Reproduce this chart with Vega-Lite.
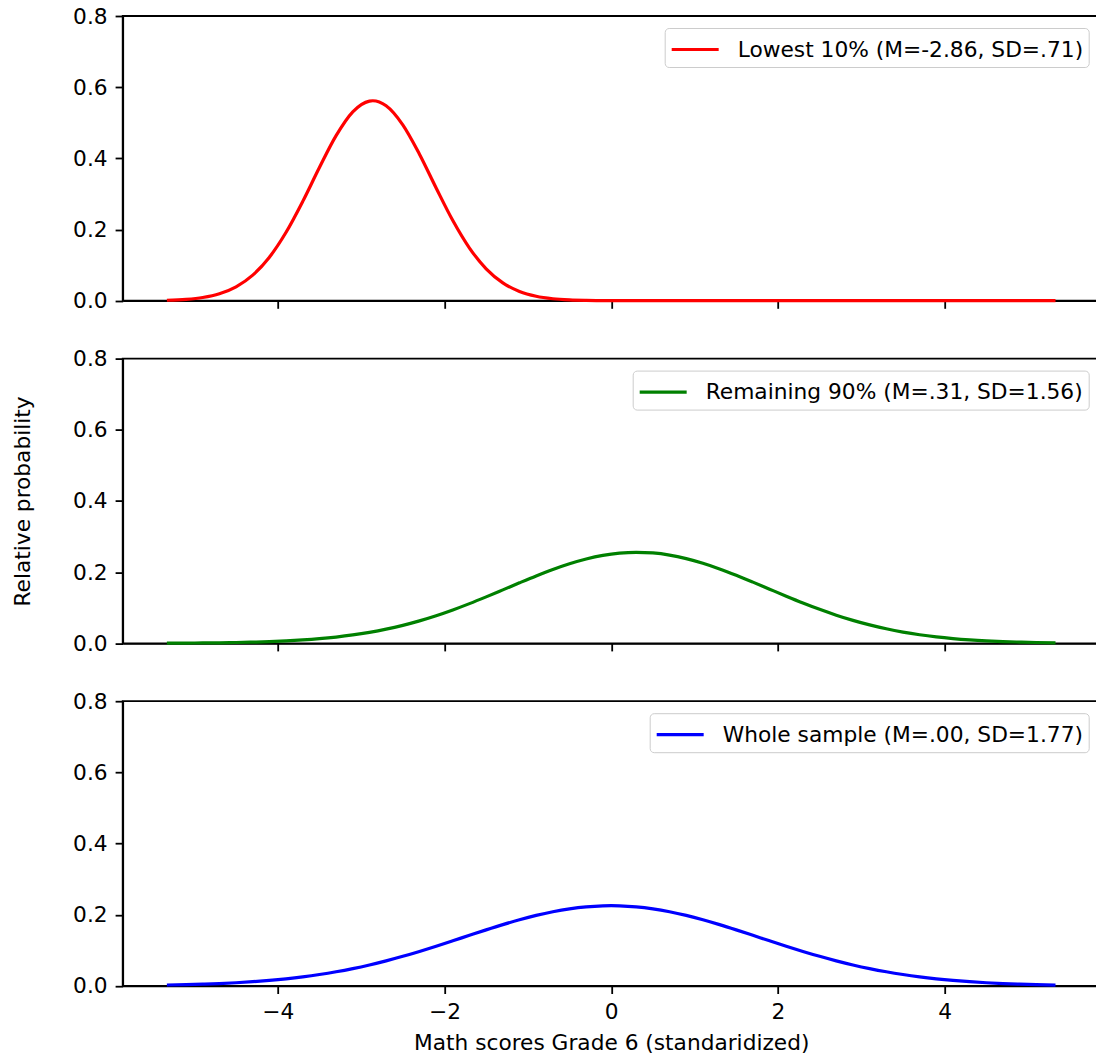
{
  "$schema": "https://vega.github.io/schema/vega-lite/v6.json",
  "autosize": {"type": "none"},
  "padding": {"left": 122.7, "top": 16, "right": 973, "bottom": 1041},
  "background": "white",
  "datasets": {
    "lowest": [
      {"x": -5.33, "y": 0.00132, "g": "Lowest 10% (M=-2.86, SD=.71)"},
      {"x": -5.1, "y": 0.00387, "g": "Lowest 10% (M=-2.86, SD=.71)"},
      {"x": -4.9, "y": 0.00906, "g": "Lowest 10% (M=-2.86, SD=.71)"},
      {"x": -4.7, "y": 0.01956, "g": "Lowest 10% (M=-2.86, SD=.71)"},
      {"x": -4.5, "y": 0.03899, "g": "Lowest 10% (M=-2.86, SD=.71)"},
      {"x": -4.3, "y": 0.07186, "g": "Lowest 10% (M=-2.86, SD=.71)"},
      {"x": -4.1, "y": 0.12227, "g": "Lowest 10% (M=-2.86, SD=.71)"},
      {"x": -3.9, "y": 0.1922, "g": "Lowest 10% (M=-2.86, SD=.71)"},
      {"x": -3.7, "y": 0.27907, "g": "Lowest 10% (M=-2.86, SD=.71)"},
      {"x": -3.5, "y": 0.37429, "g": "Lowest 10% (M=-2.86, SD=.71)"},
      {"x": -3.3, "y": 0.46374, "g": "Lowest 10% (M=-2.86, SD=.71)"},
      {"x": -3.1, "y": 0.5307, "g": "Lowest 10% (M=-2.86, SD=.71)"},
      {"x": -2.9, "y": 0.56101, "g": "Lowest 10% (M=-2.86, SD=.71)"},
      {"x": -2.86, "y": 0.5619, "g": "Lowest 10% (M=-2.86, SD=.71)"},
      {"x": -2.7, "y": 0.5478, "g": "Lowest 10% (M=-2.86, SD=.71)"},
      {"x": -2.5, "y": 0.49412, "g": "Lowest 10% (M=-2.86, SD=.71)"},
      {"x": -2.3, "y": 0.41167, "g": "Lowest 10% (M=-2.86, SD=.71)"},
      {"x": -2.1, "y": 0.31685, "g": "Lowest 10% (M=-2.86, SD=.71)"},
      {"x": -1.9, "y": 0.22525, "g": "Lowest 10% (M=-2.86, SD=.71)"},
      {"x": -1.7, "y": 0.14791, "g": "Lowest 10% (M=-2.86, SD=.71)"},
      {"x": -1.5, "y": 0.08972, "g": "Lowest 10% (M=-2.86, SD=.71)"},
      {"x": -1.3, "y": 0.05028, "g": "Lowest 10% (M=-2.86, SD=.71)"},
      {"x": -1.1, "y": 0.02602, "g": "Lowest 10% (M=-2.86, SD=.71)"},
      {"x": -0.9, "y": 0.01244, "g": "Lowest 10% (M=-2.86, SD=.71)"},
      {"x": -0.7, "y": 0.00549, "g": "Lowest 10% (M=-2.86, SD=.71)"},
      {"x": -0.5, "y": 0.00224, "g": "Lowest 10% (M=-2.86, SD=.71)"},
      {"x": -0.3, "y": 0.00084, "g": "Lowest 10% (M=-2.86, SD=.71)"},
      {"x": -0.1, "y": 0.00029, "g": "Lowest 10% (M=-2.86, SD=.71)"},
      {"x": 0.1, "y": 0.00009, "g": "Lowest 10% (M=-2.86, SD=.71)"},
      {"x": 0.3, "y": 0.00003, "g": "Lowest 10% (M=-2.86, SD=.71)"},
      {"x": 0.5, "y": 0, "g": "Lowest 10% (M=-2.86, SD=.71)"},
      {"x": 1.5, "y": 0, "g": "Lowest 10% (M=-2.86, SD=.71)"},
      {"x": 2.5, "y": 0, "g": "Lowest 10% (M=-2.86, SD=.71)"},
      {"x": 3.5, "y": 0, "g": "Lowest 10% (M=-2.86, SD=.71)"},
      {"x": 4.5, "y": 0, "g": "Lowest 10% (M=-2.86, SD=.71)"},
      {"x": 5.33, "y": 0, "g": "Lowest 10% (M=-2.86, SD=.71)"}
    ],
    "remaining": [
      {"x": -5.33, "y": 0.00037, "g": "Remaining 90% (M=.31, SD=1.56)"},
      {"x": -5.1, "y": 0.00063, "g": "Remaining 90% (M=.31, SD=1.56)"},
      {"x": -4.9, "y": 0.00097, "g": "Remaining 90% (M=.31, SD=1.56)"},
      {"x": -4.7, "y": 0.00147, "g": "Remaining 90% (M=.31, SD=1.56)"},
      {"x": -4.5, "y": 0.00221, "g": "Remaining 90% (M=.31, SD=1.56)"},
      {"x": -4.3, "y": 0.00325, "g": "Remaining 90% (M=.31, SD=1.56)"},
      {"x": -4.1, "y": 0.0047, "g": "Remaining 90% (M=.31, SD=1.56)"},
      {"x": -3.9, "y": 0.0067, "g": "Remaining 90% (M=.31, SD=1.56)"},
      {"x": -3.7, "y": 0.0094, "g": "Remaining 90% (M=.31, SD=1.56)"},
      {"x": -3.5, "y": 0.01296, "g": "Remaining 90% (M=.31, SD=1.56)"},
      {"x": -3.3, "y": 0.01758, "g": "Remaining 90% (M=.31, SD=1.56)"},
      {"x": -3.1, "y": 0.02345, "g": "Remaining 90% (M=.31, SD=1.56)"},
      {"x": -2.9, "y": 0.03079, "g": "Remaining 90% (M=.31, SD=1.56)"},
      {"x": -2.7, "y": 0.03975, "g": "Remaining 90% (M=.31, SD=1.56)"},
      {"x": -2.5, "y": 0.05049, "g": "Remaining 90% (M=.31, SD=1.56)"},
      {"x": -2.3, "y": 0.06309, "g": "Remaining 90% (M=.31, SD=1.56)"},
      {"x": -2.1, "y": 0.07754, "g": "Remaining 90% (M=.31, SD=1.56)"},
      {"x": -1.9, "y": 0.09375, "g": "Remaining 90% (M=.31, SD=1.56)"},
      {"x": -1.7, "y": 0.1115, "g": "Remaining 90% (M=.31, SD=1.56)"},
      {"x": -1.5, "y": 0.13046, "g": "Remaining 90% (M=.31, SD=1.56)"},
      {"x": -1.3, "y": 0.15014, "g": "Remaining 90% (M=.31, SD=1.56)"},
      {"x": -1.1, "y": 0.16998, "g": "Remaining 90% (M=.31, SD=1.56)"},
      {"x": -0.9, "y": 0.1893, "g": "Remaining 90% (M=.31, SD=1.56)"},
      {"x": -0.7, "y": 0.20738, "g": "Remaining 90% (M=.31, SD=1.56)"},
      {"x": -0.5, "y": 0.22348, "g": "Remaining 90% (M=.31, SD=1.56)"},
      {"x": -0.3, "y": 0.23691, "g": "Remaining 90% (M=.31, SD=1.56)"},
      {"x": -0.1, "y": 0.24705, "g": "Remaining 90% (M=.31, SD=1.56)"},
      {"x": 0.1, "y": 0.25342, "g": "Remaining 90% (M=.31, SD=1.56)"},
      {"x": 0.3, "y": 0.25573, "g": "Remaining 90% (M=.31, SD=1.56)"},
      {"x": 0.5, "y": 0.25384, "g": "Remaining 90% (M=.31, SD=1.56)"},
      {"x": 0.7, "y": 0.24786, "g": "Remaining 90% (M=.31, SD=1.56)"},
      {"x": 0.9, "y": 0.23808, "g": "Remaining 90% (M=.31, SD=1.56)"},
      {"x": 1.1, "y": 0.22495, "g": "Remaining 90% (M=.31, SD=1.56)"},
      {"x": 1.3, "y": 0.20909, "g": "Remaining 90% (M=.31, SD=1.56)"},
      {"x": 1.5, "y": 0.19117, "g": "Remaining 90% (M=.31, SD=1.56)"},
      {"x": 1.7, "y": 0.17194, "g": "Remaining 90% (M=.31, SD=1.56)"},
      {"x": 1.9, "y": 0.15213, "g": "Remaining 90% (M=.31, SD=1.56)"},
      {"x": 2.1, "y": 0.1324, "g": "Remaining 90% (M=.31, SD=1.56)"},
      {"x": 2.3, "y": 0.11335, "g": "Remaining 90% (M=.31, SD=1.56)"},
      {"x": 2.5, "y": 0.09546, "g": "Remaining 90% (M=.31, SD=1.56)"},
      {"x": 2.7, "y": 0.07909, "g": "Remaining 90% (M=.31, SD=1.56)"},
      {"x": 2.9, "y": 0.06445, "g": "Remaining 90% (M=.31, SD=1.56)"},
      {"x": 3.1, "y": 0.05167, "g": "Remaining 90% (M=.31, SD=1.56)"},
      {"x": 3.3, "y": 0.04074, "g": "Remaining 90% (M=.31, SD=1.56)"},
      {"x": 3.5, "y": 0.03161, "g": "Remaining 90% (M=.31, SD=1.56)"},
      {"x": 3.7, "y": 0.02412, "g": "Remaining 90% (M=.31, SD=1.56)"},
      {"x": 3.9, "y": 0.01811, "g": "Remaining 90% (M=.31, SD=1.56)"},
      {"x": 4.1, "y": 0.01337, "g": "Remaining 90% (M=.31, SD=1.56)"},
      {"x": 4.3, "y": 0.00971, "g": "Remaining 90% (M=.31, SD=1.56)"},
      {"x": 4.5, "y": 0.00694, "g": "Remaining 90% (M=.31, SD=1.56)"},
      {"x": 4.7, "y": 0.00488, "g": "Remaining 90% (M=.31, SD=1.56)"},
      {"x": 4.9, "y": 0.00337, "g": "Remaining 90% (M=.31, SD=1.56)"},
      {"x": 5.1, "y": 0.00229, "g": "Remaining 90% (M=.31, SD=1.56)"},
      {"x": 5.33, "y": 0.00144, "g": "Remaining 90% (M=.31, SD=1.56)"}
    ],
    "whole": [
      {"x": -5.33, "y": 0.00242, "g": "Whole sample (M=.00, SD=1.77)"},
      {"x": -5.1, "y": 0.00355, "g": "Whole sample (M=.00, SD=1.77)"},
      {"x": -4.9, "y": 0.00488, "g": "Whole sample (M=.00, SD=1.77)"},
      {"x": -4.7, "y": 0.00664, "g": "Whole sample (M=.00, SD=1.77)"},
      {"x": -4.5, "y": 0.0089, "g": "Whole sample (M=.00, SD=1.77)"},
      {"x": -4.3, "y": 0.01179, "g": "Whole sample (M=.00, SD=1.77)"},
      {"x": -4.1, "y": 0.01541, "g": "Whole sample (M=.00, SD=1.77)"},
      {"x": -3.9, "y": 0.01989, "g": "Whole sample (M=.00, SD=1.77)"},
      {"x": -3.7, "y": 0.02535, "g": "Whole sample (M=.00, SD=1.77)"},
      {"x": -3.5, "y": 0.03191, "g": "Whole sample (M=.00, SD=1.77)"},
      {"x": -3.3, "y": 0.03964, "g": "Whole sample (M=.00, SD=1.77)"},
      {"x": -3.1, "y": 0.04862, "g": "Whole sample (M=.00, SD=1.77)"},
      {"x": -2.9, "y": 0.05889, "g": "Whole sample (M=.00, SD=1.77)"},
      {"x": -2.7, "y": 0.07041, "g": "Whole sample (M=.00, SD=1.77)"},
      {"x": -2.5, "y": 0.08313, "g": "Whole sample (M=.00, SD=1.77)"},
      {"x": -2.3, "y": 0.09689, "g": "Whole sample (M=.00, SD=1.77)"},
      {"x": -2.1, "y": 0.1115, "g": "Whole sample (M=.00, SD=1.77)"},
      {"x": -1.9, "y": 0.12668, "g": "Whole sample (M=.00, SD=1.77)"},
      {"x": -1.7, "y": 0.14211, "g": "Whole sample (M=.00, SD=1.77)"},
      {"x": -1.5, "y": 0.15739, "g": "Whole sample (M=.00, SD=1.77)"},
      {"x": -1.3, "y": 0.17211, "g": "Whole sample (M=.00, SD=1.77)"},
      {"x": -1.1, "y": 0.18581, "g": "Whole sample (M=.00, SD=1.77)"},
      {"x": -0.9, "y": 0.19806, "g": "Whole sample (M=.00, SD=1.77)"},
      {"x": -0.7, "y": 0.20844, "g": "Whole sample (M=.00, SD=1.77)"},
      {"x": -0.5, "y": 0.21658, "g": "Whole sample (M=.00, SD=1.77)"},
      {"x": -0.3, "y": 0.22218, "g": "Whole sample (M=.00, SD=1.77)"},
      {"x": -0.1, "y": 0.22503, "g": "Whole sample (M=.00, SD=1.77)"},
      {"x": 0.0, "y": 0.22539, "g": "Whole sample (M=.00, SD=1.77)"},
      {"x": 0.1, "y": 0.22503, "g": "Whole sample (M=.00, SD=1.77)"},
      {"x": 0.3, "y": 0.22218, "g": "Whole sample (M=.00, SD=1.77)"},
      {"x": 0.5, "y": 0.21658, "g": "Whole sample (M=.00, SD=1.77)"},
      {"x": 0.7, "y": 0.20844, "g": "Whole sample (M=.00, SD=1.77)"},
      {"x": 0.9, "y": 0.19806, "g": "Whole sample (M=.00, SD=1.77)"},
      {"x": 1.1, "y": 0.18581, "g": "Whole sample (M=.00, SD=1.77)"},
      {"x": 1.3, "y": 0.17211, "g": "Whole sample (M=.00, SD=1.77)"},
      {"x": 1.5, "y": 0.15739, "g": "Whole sample (M=.00, SD=1.77)"},
      {"x": 1.7, "y": 0.14211, "g": "Whole sample (M=.00, SD=1.77)"},
      {"x": 1.9, "y": 0.12668, "g": "Whole sample (M=.00, SD=1.77)"},
      {"x": 2.1, "y": 0.1115, "g": "Whole sample (M=.00, SD=1.77)"},
      {"x": 2.3, "y": 0.09689, "g": "Whole sample (M=.00, SD=1.77)"},
      {"x": 2.5, "y": 0.08313, "g": "Whole sample (M=.00, SD=1.77)"},
      {"x": 2.7, "y": 0.07041, "g": "Whole sample (M=.00, SD=1.77)"},
      {"x": 2.9, "y": 0.05889, "g": "Whole sample (M=.00, SD=1.77)"},
      {"x": 3.1, "y": 0.04862, "g": "Whole sample (M=.00, SD=1.77)"},
      {"x": 3.3, "y": 0.03964, "g": "Whole sample (M=.00, SD=1.77)"},
      {"x": 3.5, "y": 0.03191, "g": "Whole sample (M=.00, SD=1.77)"},
      {"x": 3.7, "y": 0.02535, "g": "Whole sample (M=.00, SD=1.77)"},
      {"x": 3.9, "y": 0.01989, "g": "Whole sample (M=.00, SD=1.77)"},
      {"x": 4.1, "y": 0.01541, "g": "Whole sample (M=.00, SD=1.77)"},
      {"x": 4.3, "y": 0.01179, "g": "Whole sample (M=.00, SD=1.77)"},
      {"x": 4.5, "y": 0.0089, "g": "Whole sample (M=.00, SD=1.77)"},
      {"x": 4.7, "y": 0.00664, "g": "Whole sample (M=.00, SD=1.77)"},
      {"x": 4.9, "y": 0.00488, "g": "Whole sample (M=.00, SD=1.77)"},
      {"x": 5.1, "y": 0.00355, "g": "Whole sample (M=.00, SD=1.77)"},
      {"x": 5.33, "y": 0.00242, "g": "Whole sample (M=.00, SD=1.77)"}
    ]
  },
  "bounds": "flush",
  "spacing": 57.6,
  "resolve": {"scale": {"color": "independent"}},
  "vconcat": [
    {
      "width": 977,
      "height": 284.7,
      "data": {"name": "lowest"},
      "mark": {"type": "line", "strokeWidth": 3.2, "interpolate": "monotone"},
      "encoding": {
        "x": {"field": "x", "type": "quantitative", "scale": {"domain": [-5.86, 5.86], "nice": false, "zero": false},
              "axis": {"values": [-4, -2, 0, 2, 4], "labels": false, "title": null}},
        "y": {"field": "y", "type": "quantitative", "scale": {"domain": [0, 0.8], "nice": false},
              "axis": {"values": [0, 0.2, 0.4, 0.6, 0.8], "format": ".1f", "title": null}},
        "color": {"field": "g", "type": "nominal", "scale": {"range": ["#ff0000"]},
                  "legend": {"title": null, "orient": "top-right", "symbolType": "M-1,0H2.24", "symbolSize": 841, "symbolStrokeWidth": 3.2}}
      }
    },
    {
      "width": 977,
      "height": 284.7,
      "data": {"name": "remaining"},
      "mark": {"type": "line", "strokeWidth": 3.2, "interpolate": "monotone"},
      "encoding": {
        "x": {"field": "x", "type": "quantitative", "scale": {"domain": [-5.86, 5.86], "nice": false, "zero": false},
              "axis": {"values": [-4, -2, 0, 2, 4], "labels": false, "title": null}},
        "y": {"field": "y", "type": "quantitative", "scale": {"domain": [0, 0.8], "nice": false},
              "axis": {"values": [0, 0.2, 0.4, 0.6, 0.8], "format": ".1f", "title": "Relative probability", "titlePadding": 38}},
        "color": {"field": "g", "type": "nominal", "scale": {"range": ["#008000"]},
                  "legend": {"title": null, "orient": "top-right", "symbolType": "M-1,0H2.24", "symbolSize": 841, "symbolStrokeWidth": 3.2}}
      }
    },
    {
      "width": 977,
      "height": 284.7,
      "data": {"name": "whole"},
      "mark": {"type": "line", "strokeWidth": 3.2, "interpolate": "monotone"},
      "encoding": {
        "x": {"field": "x", "type": "quantitative", "scale": {"domain": [-5.86, 5.86], "nice": false, "zero": false},
              "axis": {"values": [-4, -2, 0, 2, 4], "format": "d", "title": "Math scores Grade 6 (standaridized)", "titlePadding": 9}},
        "y": {"field": "y", "type": "quantitative", "scale": {"domain": [0, 0.8], "nice": false},
              "axis": {"values": [0, 0.2, 0.4, 0.6, 0.8], "format": ".1f", "title": null}},
        "color": {"field": "g", "type": "nominal", "scale": {"range": ["#0000ff"]},
                  "legend": {"title": null, "orient": "top-right", "symbolType": "M-1,0H2.24", "symbolSize": 841, "symbolStrokeWidth": 3.2}}
      }
    }
  ],
  "config": {
    "font": "DejaVu Sans",
    "view": {"stroke": "black", "strokeWidth": 1.8},
    "axis": {
      "grid": false,
      "domainColor": "black",
      "domainWidth": 1.8,
      "tickColor": "black",
      "tickWidth": 1.8,
      "tickSize": 7.6,
      "labelFont": "DejaVu Sans",
      "labelFontSize": 21.7,
      "labelColor": "black",
      "labelPadding": 8,
      "titleFont": "DejaVu Sans",
      "titleFontSize": 21.7,
      "titleFontWeight": "normal",
      "titleColor": "black"
    },
    "legend": {
      "offset": 11.5,
      "padding": 5,
      "strokeColor": "#cccccc",
      "strokeWidth": 1,
      "cornerRadius": 4,
      "fillColor": "rgba(255,255,255,0.8)",
      "labelFont": "DejaVu Sans",
      "labelFontSize": 21.75,
      "labelColor": "black",
      "labelOffset": 35,
      "labelLimit": 0
    }
  }
}
